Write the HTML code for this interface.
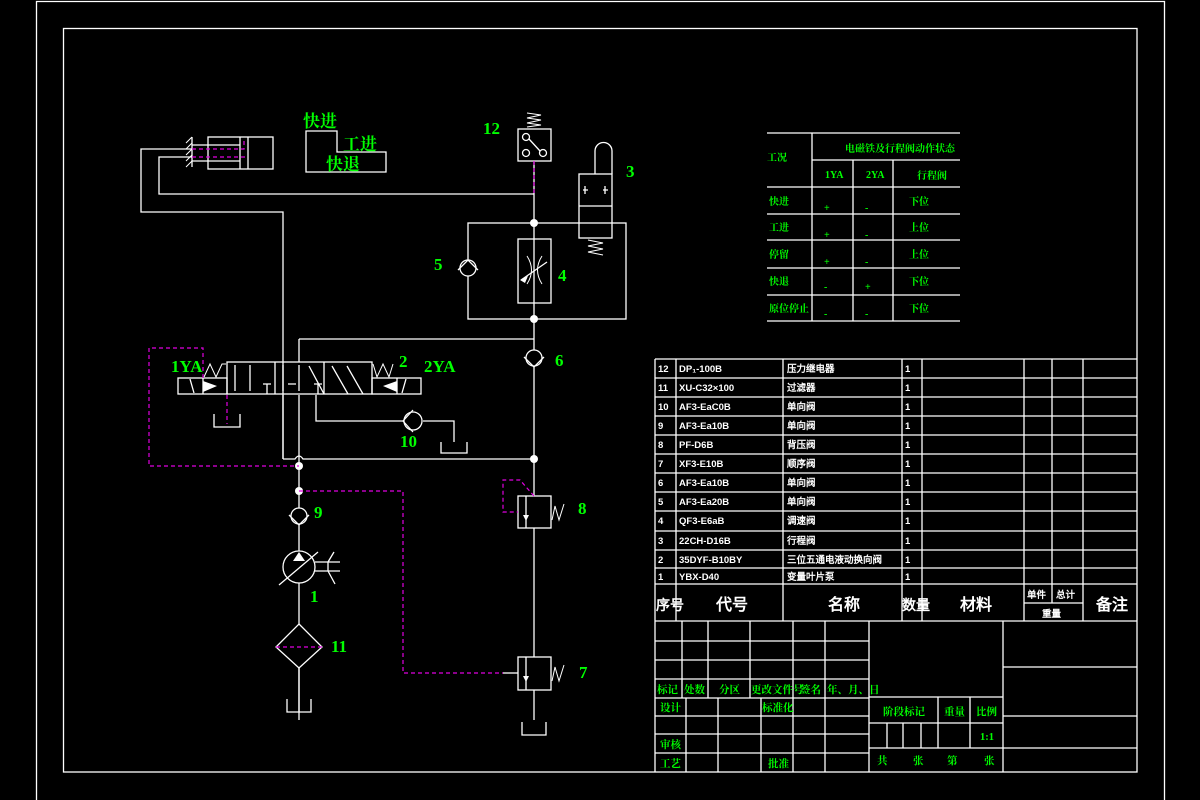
<!DOCTYPE html>
<html><head><meta charset="utf-8"><style>
html,body{margin:0;padding:0;background:#000;}
svg{display:block}
text{font-family:"Liberation Serif","Noto Serif CJK SC","WenQuanYi Zen Hei",serif;fill:#00ff00;font-weight:bold}
.t{font-family:"Liberation Sans","WenQuanYi Zen Hei",sans-serif;fill:#fff;font-weight:bold}
</style></head><body>
<svg width="1200" height="800" viewBox="0 0 1200 800" xmlns="http://www.w3.org/2000/svg">
<rect width="1200" height="800" fill="#000"/>
<g fill="none" stroke="#fff" stroke-width="1.3">
<!-- frames -->
<path d="M36.5,805 V1.5 H1164.5 V805"/>
<rect x="63.5" y="28.5" width="1073.5" height="743.5"/>

<!-- cylinder -->
<rect x="208" y="137" width="65" height="32"/>
<line x1="240" y1="137" x2="240" y2="169"/><line x1="248" y1="137" x2="248" y2="169"/>
<path d="M192,145 H240 M192,161 H240"/>
<line x1="192" y1="137" x2="192" y2="167"/>
<path d="M186,143 l6,-6 M186,149 l6,-6 M186,155 l6,-6 M186,161 l6,-6 M186,167 l6,-6" stroke-width="1"/>
<!-- main lines -->
<path d="M192,149 H141 V212 H283 V459"/>
<path d="M192,157 H159 V194 H534"/>
<path d="M534,161 V194"/>
<path d="M534,194 V720"/>
<rect x="468" y="223" width="158" height="96"/>
<!-- valve 12 -->
<rect x="518" y="129" width="33" height="32"/>
<circle cx="526" cy="137" r="3.5"/><circle cx="526" cy="153" r="3.5"/><circle cx="543" cy="153" r="3.5"/>
<line x1="529" y1="139" x2="540" y2="151"/>
<path d="M527,113 L541,115 L527,118 L541,120 L527,123 L541,125 L527,127" stroke-width="1"/>
<!-- valve 3 -->
<rect x="579" y="174" width="33" height="64"/>
<line x1="579" y1="206" x2="612" y2="206"/>
<path d="M595,174 V151 A8.5,8.5 0 0 1 612,151 V174"/>
<path d="M583,190 H588 M585,186 V194 M608,190 H603 M605,186 V194"/>
<path d="M588,240 L603,243 L588,246 L603,249 L588,252 L603,255" stroke-width="1"/>
<!-- valve 4 -->
<rect x="518" y="239" width="33" height="64" fill="#000"/>
<line x1="534" y1="239" x2="534" y2="303"/>
<path d="M527,256 Q536,270 527,284 M542,256 Q533,270 542,284" stroke-width="1"/>
<line x1="521" y1="280" x2="547" y2="262"/>
<!-- check valve 5 -->
<circle cx="468" cy="268" r="8" fill="#000"/>
<path d="M458,270 L468,260 L478,270"/>
<!-- check valve 6 -->
<path d="M299,339 H534"/>
<path d="M299,339 V362"/>
<circle cx="534" cy="358" r="8" fill="#000"/>
<path d="M524,357 L534,367 L544,357"/>
<!-- directional valve 2 -->
<rect x="227" y="362" width="145" height="32"/>
<line x1="275" y1="362" x2="275" y2="394"/><line x1="324" y1="362" x2="324" y2="394"/>
<rect x="178" y="378" width="49" height="16"/>
<rect x="372" y="378" width="49" height="16"/>
<line x1="203" y1="378" x2="203" y2="394"/><line x1="397" y1="378" x2="397" y2="394"/>
<path d="M190,379 L194,393 M406,379 L402,393"/>
<path d="M235,365 V391 M250,391 V365 M263,384 H271 M267,384 V394 M283,365 V391 M299,365 V391 M288,384 H296 M314,384 H322 M318,384 V394 M309,366 L324,394 M332,366 L348,394 M347,366 L363,394 M333,365"/>
<path d="M204,377 L210,364 L216,377 L222,364 L226,364" stroke-width="1"/>
<path d="M373,364 L377,377 L383,364 L389,377 L393,364" stroke-width="1"/>
<path d="M283,395 V459 M299,395 V459"/>
<path d="M316,395 V421 H404 M423,421 H454 V442"/>
<path d="M441,442 V453 H467 V442"/>
<circle cx="413" cy="421" r="9" fill="#000"/>
<path d="M413,410 L403,421 L413,432"/>
<path d="M214,414 V427 H240 V414"/>
<!-- bottom line -->
<path d="M283,459 H295 Q299,453 303,459 H534"/>
<path d="M299,459 V720"/>
<!-- check valve 9 -->
<circle cx="299" cy="516" r="8" fill="#000"/>
<path d="M289,515 L299,525 L309,515"/>
<!-- pump -->
<circle cx="299" cy="567" r="16" fill="#000"/>
<line x1="279" y1="585" x2="318" y2="552"/>
<path d="M315,562 H340 M315,571 H340 M328,562 V571 M328,562 L334,552 M328,571 L335,584"/>
<!-- filter -->
<path d="M299,624 L322,647 L299,668 L276,647 Z" fill="#000"/>
<path d="M287,699 V712 H311 V699 M299,668 V712"/>
<!-- valves 8 & 7 -->
<rect x="518" y="496" width="33" height="32" fill="#000"/>
<line x1="526" y1="496" x2="526" y2="528"/>
<rect x="518" y="657" width="33" height="33" fill="#000"/>
<line x1="526" y1="657" x2="526" y2="690"/>
<path d="M552,520 L555,506 L559,520 L564,504 M552,681 L555,667 L559,681 L564,665" stroke-width="1"/>
<path d="M503,673 H518"/>
<path d="M522,722 V735 H546 V722"/>
<!-- motion diagram -->
<path d="M306,131 V172 H386 V152 H337 V131 Z"/>
</g>
<!-- arrow heads / fills -->
<g fill="#fff">
<path d="M203,381 L217,386 L203,392 Z"/><path d="M397,381 L383,386 L397,392 Z"/>
<path d="M299,552 L293,561 L305,561 Z"/>
<path d="M520,280 L528,276 L525,283 Z"/>
<circle cx="534" cy="223" r="4"/><circle cx="534" cy="319" r="4"/><circle cx="534" cy="459" r="4"/>
<circle cx="299" cy="466" r="4"/><circle cx="299" cy="491" r="4"/>
<path d="M523,515 h6 l-3,6 z"/><path d="M523,676 h6 l-3,6 z"/>
</g>
<!-- magenta dashed -->
<g fill="none" stroke="#e000e0" stroke-width="1.2" stroke-dasharray="4,3">
<path d="M192,149 H244 V141 M192,157 H248"/>
<path d="M534,161 V194"/>
<path d="M203,378 V348 H149 V466 H299"/>
<path d="M227,395 V424"/>
<path d="M299,491 H403 V673 H503"/>
<path d="M534,496 L520,480 H503 V512 H518"/>
<path d="M276,647 H322"/>
</g>
<!-- labels -->
<g font-size="17">
<text x="303" y="127">快进</text><text x="343" y="150">工进</text><text x="326" y="170">快退</text>
<text x="483" y="134">12</text><text x="626" y="177">3</text><text x="434" y="270">5</text><text x="558" y="281">4</text>
<text x="555" y="366">6</text><text x="399" y="367">2</text><text x="424" y="372">2YA</text><text x="171" y="372">1YA</text>
<text x="400" y="447">10</text><text x="314" y="518">9</text><text x="310" y="602">1</text><text x="331" y="652">11</text>
<text x="578" y="514">8</text><text x="579" y="678">7</text>
</g>
<!-- top right table -->
<g stroke="#fff" stroke-width="1.3" fill="none">
<path d="M767,133 H960 M812,160 H960 M767,187 H960 M767,214 H960 M767,240 H960 M767,268 H960 M767,295 H960 M767,321 H960"/>
<path d="M812,133 V321 M853,160 V321 M893,160 V321"/>
</g>
<g font-size="10">
<text x="767" y="161">工况</text><text x="845" y="152">电磁铁及行程阀动作状态</text>
<text x="825" y="178">1YA</text><text x="866" y="178">2YA</text><text x="917" y="179">行程阀</text>
<text x="769" y="205">快进</text><text x="769" y="231">工进</text><text x="769" y="258">停留</text><text x="769" y="285">快退</text><text x="769" y="312">原位停止</text>
<text x="909" y="205">下位</text><text x="909" y="231">上位</text><text x="909" y="258">上位</text><text x="909" y="285">下位</text><text x="909" y="312">下位</text>
<text x="824" y="211">+</text><text x="824" y="238">+</text><text x="824" y="265">+</text><text x="824" y="290">-</text><text x="824" y="317">-</text>
<text x="865" y="211">-</text><text x="865" y="238">-</text><text x="865" y="265">-</text><text x="865" y="290">+</text><text x="865" y="317">-</text>
</g>
<!-- parts list -->
<g stroke="#fff" stroke-width="1.3" fill="none">
<path d="M655,359 H1137 M655,378 H1137 M655,397 H1137 M655,416 H1137 M655,435 H1137 M655,454 H1137 M655,473 H1137 M655,492 H1137 M655,511 H1137 M655,531 H1137 M655,550 H1137 M655,568 H1137 M655,584 H1137 M655,621 H1137"/>
<path d="M655,359 V772 M676,359 V621 M783,359 V621 M902,359 V621 M922,359 V621 M1024,359 V621 M1052,359 V603 M1083,359 V621 M1024,603 H1083"/>
<!-- title block -->
<path d="M655,641 H869 M655,660 H869 M655,679 H869 M655,698 H869 M655,716 H869 M655,734 H869 M655,753 H869"/>
<path d="M682,621 V698 M708,621 V698 M750,621 V698 M793,621 V772 M825,621 V772 M869,621 V772 M686,698 V772 M718,698 V772 M761,698 V772"/>
<path d="M869,697 H1003 M869,723 H1003 M869,748 H1137 M938,697 V748 M970,697 V748 M887,723 V748 M903,723 V748 M921,723 V748"/>
<path d="M1003,621 V772 M1003,667 H1137 M1003,716 H1137"/>
</g>
<g class="t" font-size="9.5">
<text class="t" x="658" y="372">12</text><text class="t" x="679" y="372">DP₁-100B</text><text class="t" x="787" y="372">压力继电器</text>
<text class="t" x="658" y="391">11</text><text class="t" x="679" y="391">XU-C32×100</text><text class="t" x="787" y="391">过滤器</text>
<text class="t" x="658" y="410">10</text><text class="t" x="679" y="410">AF3-EaC0B</text><text class="t" x="787" y="410">单向阀</text>
<text class="t" x="658" y="429">9</text><text class="t" x="679" y="429">AF3-Ea10B</text><text class="t" x="787" y="429">单向阀</text>
<text class="t" x="658" y="448">8</text><text class="t" x="679" y="448">PF-D6B</text><text class="t" x="787" y="448">背压阀</text>
<text class="t" x="658" y="467">7</text><text class="t" x="679" y="467">XF3-E10B</text><text class="t" x="787" y="467">顺序阀</text>
<text class="t" x="658" y="486">6</text><text class="t" x="679" y="486">AF3-Ea10B</text><text class="t" x="787" y="486">单向阀</text>
<text class="t" x="658" y="505">5</text><text class="t" x="679" y="505">AF3-Ea20B</text><text class="t" x="787" y="505">单向阀</text>
<text class="t" x="658" y="524">4</text><text class="t" x="679" y="524">QF3-E6aB</text><text class="t" x="787" y="524">调速阀</text>
<text class="t" x="658" y="544">3</text><text class="t" x="679" y="544">22CH-D16B</text><text class="t" x="787" y="544">行程阀</text>
<text class="t" x="658" y="563">2</text><text class="t" x="679" y="563">35DYF-B10BY</text><text class="t" x="787" y="563">三位五通电液动换向阀</text>
<text class="t" x="658" y="580">1</text><text class="t" x="679" y="580">YBX-D40</text><text class="t" x="787" y="580">变量叶片泵</text>
<text class="t" x="905" y="372">1</text><text class="t" x="905" y="391">1</text><text class="t" x="905" y="410">1</text><text class="t" x="905" y="429">1</text><text class="t" x="905" y="448">1</text><text class="t" x="905" y="467">1</text><text class="t" x="905" y="486">1</text><text class="t" x="905" y="505">1</text><text class="t" x="905" y="524">1</text><text class="t" x="905" y="544">1</text><text class="t" x="905" y="563">1</text><text class="t" x="905" y="580">1</text>
<text class="t" x="1027" y="598">单件</text><text class="t" x="1056" y="598">总计</text><text class="t" x="1042" y="617">重量</text>
</g>
<g font-size="16">
<text class="t" x="656" y="610" font-size="14">序号</text><text class="t" x="716" y="610">代号</text><text class="t" x="828" y="610">名称</text>
<text class="t" x="902" y="610" font-size="14">数量</text><text class="t" x="960" y="610">材料</text><text class="t" x="1096" y="610">备注</text>
</g>
<g font-size="10.5">
<text x="657" y="693">标记</text><text x="684" y="693">处数</text><text x="719" y="693">分区</text><text x="751" y="693">更改文件号</text><text x="800" y="693">签名</text><text x="827" y="693">年、月、日</text>
<text x="660" y="711">设计</text><text x="762" y="711">标准化</text>
<text x="660" y="748">审核</text><text x="660" y="767">工艺</text><text x="768" y="767">批准</text>
<text x="883" y="715">阶段标记</text><text x="944" y="715">重量</text><text x="976" y="715">比例</text>
<text x="980" y="740">1:1</text>
<text x="877" y="764">共</text><text x="913" y="764">张</text><text x="947" y="764">第</text><text x="984" y="764">张</text>
</g>
</svg>
</body></html>
